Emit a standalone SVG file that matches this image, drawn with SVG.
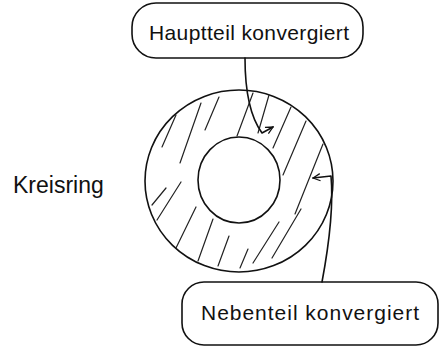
<svg xmlns="http://www.w3.org/2000/svg" width="446" height="349" viewBox="0 0 446 349">
  <style>
    .ln { fill: none; stroke: #111; stroke-width: 1.6; stroke-linecap: round; stroke-linejoin: round; }
    .hatch { fill: none; stroke: #222; stroke-width: 1.2; stroke-linecap: round; }
    .txt { font-family: "Liberation Sans", "DejaVu Sans", sans-serif; fill: #111; }
  </style>
  <defs>
    <marker id="arr" viewBox="0 0 10 10" refX="9" refY="5" markerWidth="9" markerHeight="9" markerUnits="userSpaceOnUse" orient="auto">
      <path d="M1,1 L9,5 L1,9" fill="none" stroke="#111" stroke-width="1.4"/>
    </marker>
  </defs>
  <rect width="446" height="349" fill="#fff"/>

  <g id="ring">
    <ellipse class="ln" cx="239" cy="181" rx="94" ry="91"/>
    <ellipse class="ln" cx="239" cy="180" rx="41" ry="43"/>
    <g id="hatching">
      <line class="hatch" x1="162" y1="147" x2="176" y2="115"/>
      <line class="hatch" x1="180" y1="163" x2="201" y2="103"/>
      <line class="hatch" x1="205" y1="130" x2="219" y2="97"/>
      <line class="hatch" x1="237" y1="136" x2="253" y2="93"/>
      <line class="hatch" x1="258" y1="133" x2="269" y2="95"/>
      <line class="hatch" x1="273" y1="148" x2="291" y2="107"/>
      <line class="hatch" x1="283" y1="175" x2="306" y2="121"/>
      <line class="hatch" x1="295" y1="214" x2="323" y2="144"/>
      <line class="hatch" x1="272" y1="258" x2="301" y2="209"/>
      <line class="hatch" x1="152" y1="205" x2="166" y2="188"/>
      <line class="hatch" x1="157" y1="220" x2="181" y2="182"/>
      <line class="hatch" x1="176" y1="248" x2="196" y2="207"/>
      <line class="hatch" x1="198" y1="261" x2="213" y2="219"/>
      <line class="hatch" x1="218" y1="266" x2="229" y2="236"/>
      <line class="hatch" x1="240" y1="268" x2="248" y2="249"/>
      <line class="hatch" x1="253" y1="263" x2="279" y2="222"/>
    </g>
  </g>

  <g id="label-kreisring">
    <text class="txt" x="13" y="193" font-size="23">Kreisring</text>
  </g>

  <g id="box-hauptteil">
    <rect class="ln" x="132" y="3" width="231" height="55" rx="24" ry="24"/>
    <text class="txt" x="249" y="40" font-size="21" text-anchor="middle" textLength="200" lengthAdjust="spacing">Hauptteil konvergiert</text>
  </g>

  <g id="box-nebenteil">
    <rect class="ln" x="182" y="282" width="256" height="63" rx="22" ry="22"/>
    <text class="txt" x="310" y="320" font-size="21" text-anchor="middle" textLength="218" lengthAdjust="spacing">Nebenteil konvergiert</text>
  </g>

  <g id="connectors">
    <path class="ln" d="M245,58 C245,95 251,118 262,133 L273,127" marker-end="url(#arr)"/>
    <path class="ln" d="M322,282 C328,250 334,210 331,176 L313,178" marker-end="url(#arr)"/>
  </g>
</svg>
